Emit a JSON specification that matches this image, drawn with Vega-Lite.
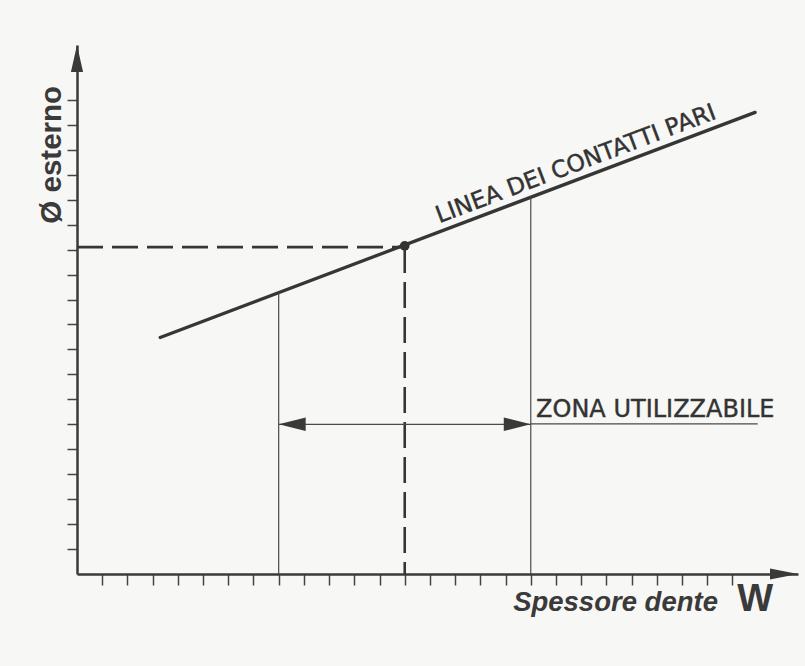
{
  "$schema": "https://vega.github.io/schema/vega-lite/v6.json",
  "width": 721,
  "height": 529,
  "autosize": {"type": "none"},
  "padding": {"left": 77, "top": 45, "right": 7, "bottom": 92},
  "background": "#f7f7f5",
  "config": {
    "view": {"stroke": null},
    "axis": {"grid": false, "labels": false, "title": null, "domainColor": "#3a3a3a", "domainWidth": 2.5, "tickColor": "#444444", "tickWidth": 1.5}
  },
  "encoding": {
    "x": {"field": "x", "type": "quantitative", "scale": {"domain": [0, 28.6], "nice": false, "zero": false},
          "axis": {"values": [1,2,3,4,5,6,7,8,9,10,11,12,13,14,15,16,17,18,19,20,21,22,23,24,25,26], "tickSize": 11}},
    "y": {"field": "y", "type": "quantitative", "scale": {"domain": [0, 21.2], "nice": false, "zero": false},
          "axis": {"values": [1,2,3,4,5,6,7,8,9,10,11,12,13,14,15,16,17,18,19], "tickSize": 10}}
  },
  "layer": [
    {
      "data": {"values": [{"x": 3.3, "y": 9.48}, {"x": 26.9, "y": 18.5}]},
      "mark": {"type": "line", "color": "#363636", "strokeWidth": 3.3, "strokeCap": "round"}
    },
    {
      "data": {"values": [{"x": 8, "y": 0, "y2": 11.28}, {"x": 18, "y": 0, "y2": 15.1}]},
      "mark": {"type": "rule", "color": "#4a4a4a", "strokeWidth": 1.2},
      "encoding": {"y2": {"field": "y2"}}
    },
    {
      "data": {"values": [{"x": 0, "x2": 13, "y": 13.1}]},
      "mark": {"type": "rule", "color": "#363636", "strokeWidth": 2.6, "strokeDash": [26, 9]},
      "encoding": {"x2": {"field": "x2"}}
    },
    {
      "data": {"values": [{"x": 13, "y": 13.1, "y2": 0}]},
      "mark": {"type": "rule", "color": "#363636", "strokeWidth": 2.6, "strokeDash": [26, 9]},
      "encoding": {"y2": {"field": "y2"}}
    },
    {
      "data": {"values": [{"x": 13, "y": 13.15}]},
      "mark": {"type": "point", "filled": true, "color": "#333333", "size": 95, "opacity": 1}
    },
    {
      "data": {"values": [{"x": 8, "x2": 18, "y": 6}, {"x": 18, "x2": 27, "y": 6.02}]},
      "mark": {"type": "rule", "color": "#4a4a4a", "strokeWidth": 1.2},
      "encoding": {"x2": {"field": "x2"}}
    },
    {
      "data": {"values": [{"x": 8, "y": 6}]},
      "mark": {"type": "point", "filled": true, "color": "#3a3a3a", "opacity": 1, "size": 729, "shape": "M 0 0 L 2 -0.5 L 2 0.5 Z"}
    },
    {
      "data": {"values": [{"x": 18, "y": 6}]},
      "mark": {"type": "point", "filled": true, "color": "#3a3a3a", "opacity": 1, "size": 729, "shape": "M 0 0 L -2 -0.5 L -2 0.5 Z"}
    },
    {
      "data": {"values": [{"x": 28.6, "y": 0}]},
      "mark": {"type": "point", "filled": true, "color": "#3a3a3a", "opacity": 1, "size": 784, "shape": "M 0 0 L -2 -0.4 L -2 0.4 Z"}
    },
    {
      "data": {"values": [{"x": 0, "y": 21.2}]},
      "mark": {"type": "point", "filled": true, "color": "#3a3a3a", "opacity": 1, "size": 729, "shape": "M 0 0 L -0.45 2 L 0.45 2 Z"}
    },
    {
      "data": {"values": [{"x": 20.0, "y": 15.86, "label": "LINEA DEI CONTATTI PARI"}]},
      "mark": {"type": "text", "font": "DejaVu Sans", "fontSize": 23.5, "color": "#333333", "stroke": "#333333", "strokeWidth": 0.4, "angle": -20.7, "align": "center", "baseline": "alphabetic", "dy": -8},
      "encoding": {"text": {"field": "label"}}
    },
    {
      "data": {"values": [{"x": 18.21, "y": 6.3, "label": "ZONA UTILIZZABILE"}]},
      "mark": {"type": "text", "font": "DejaVu Sans", "fontSize": 24, "color": "#333333", "stroke": "#333333", "strokeWidth": 0.4, "align": "left", "baseline": "alphabetic"},
      "encoding": {"text": {"field": "label"}}
    },
    {
      "data": {"values": [{"x": -0.635, "y": 16.8, "label": "Ø esterno"}]},
      "mark": {"type": "text", "font": "Liberation Sans", "fontSize": 29.5, "fontWeight": "bold", "color": "#3a3a3a", "angle": -90, "align": "center", "baseline": "alphabetic"},
      "encoding": {"text": {"field": "label"}}
    },
    {
      "data": {"values": [{"x": 17.3, "y": -1.48, "label": "Spessore dente"}]},
      "mark": {"type": "text", "font": "Liberation Sans", "fontSize": 27.5, "fontWeight": "bold", "fontStyle": "italic", "color": "#3a3a3a", "align": "left", "baseline": "alphabetic"},
      "encoding": {"text": {"field": "label"}}
    },
    {
      "data": {"values": [{"x": 26.19, "y": -1.48, "label": "W"}]},
      "mark": {"type": "text", "font": "Liberation Sans", "fontSize": 38, "fontWeight": "bold", "color": "#3a3a3a", "align": "left", "baseline": "alphabetic"},
      "encoding": {"text": {"field": "label"}}
    }
  ]
}
